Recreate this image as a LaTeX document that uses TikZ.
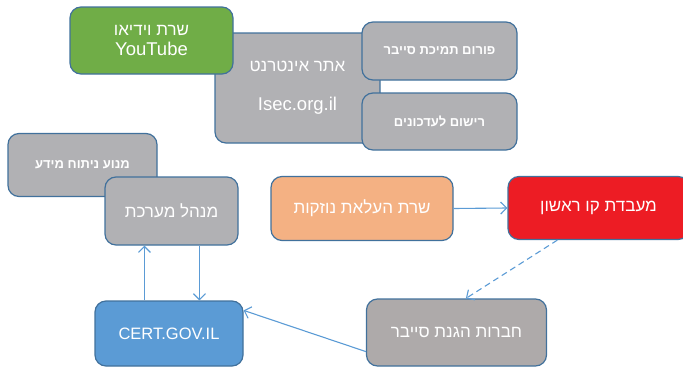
\documentclass[tikz,border=0pt]{standalone}
\usepackage{fontspec}
\setmainfont{Liberation Sans}
\newfontfamily\hebfont[Script=Hebrew]{Liberation Sans}
\TeXXeTstate=1
\usetikzlibrary{arrows.meta}

\definecolor{boxline}{HTML}{41719C}
\definecolor{linkblue}{HTML}{5B9BD5}
\definecolor{boxgray}{HTML}{B1B1B4}
\definecolor{warmgray}{HTML}{AEAAAA}
\definecolor{boxgreen}{HTML}{70AD47}
\definecolor{boxorange}{HTML}{F4B183}
\definecolor{boxred}{HTML}{ED1C24}
\definecolor{boxblue}{HTML}{5B9BD5}

\begin{document}
\begin{tikzpicture}[x=1pt,y=-1pt,
	box/.style={draw=boxline, line width=1.2pt, rounded corners=11pt, text=white,
		font=\fontsize{17}{20}\selectfont, align=center, inner sep=0pt},
	smallbox/.style={box, fill=boxgray, font=\fontsize{13}{15}\selectfont\bfseries},
	latin/.style={font=\fontsize{18.5}{21}\selectfont},
	link/.style={linkblue, line width=1.1pt, -{Straight Barb[length=6pt,width=12pt]}}]
				\clip (0,0) rectangle (683,367);
				
				% top group
				\node[box, fill=boxgray, minimum width=165, minimum height=110] (site) at (297.5,88)
					{\hebfont\beginR אתר אינטרנט\endR\\[19pt]{\fontsize{18.5}{21}\selectfont Isec.org.il}};
				\node[box, fill=boxgreen, minimum width=163, minimum height=67] (video) at (151.5,40.5)
					{\hebfont\beginR שרת וידיאו\endR\\{\fontsize{18.5}{21}\selectfont YouTube}};
				\node[smallbox, minimum width=155, minimum height=58] (forum) at (439.5,51)
					{\hebfont\beginR פורום תמיכת סייבר\endR};
				\node[smallbox, minimum width=155, minimum height=57] (updates) at (439.5,121.5)
					{\hebfont\beginR רישום לעדכונים\endR};
				
				% left group
				\node[smallbox, minimum width=149, minimum height=63] (engine) at (82.5,165)
					{\hebfont\beginR מנוע ניתוח מידע\endR};
				\node[box, fill=boxgray, minimum width=133, minimum height=68] (manager) at (171.5,211)
					{\hebfont\beginR מנהל מערכת\endR};
				\node[box, fill=boxblue, minimum width=148, minimum height=65,
					font=\fontsize{16.5}{19}\selectfont] (cert) at (169,333.5) {CERT.GOV.IL};
				
				% right group
				\node[box, fill=boxorange, minimum width=182, minimum height=64] (alert) at (362,208.5)
					{\hebfont\beginR שרת העלאת נוזקות\endR};
				\node[box, fill=boxred, minimum width=181, minimum height=63] (lab) at (598.5,208)
					{\hebfont\beginR מעבדת קו ראשון\endR};
				\node[box, fill=warmgray, minimum width=180, minimum height=67] (cyber) at (456.5,332.5)
					{\hebfont\beginR חברות הגנת סייבר\endR};
				
				% connectors
				\draw[link] (alert.east) -- (lab.west);
				\draw[link, dash pattern=on 6pt off 4pt] ([xshift=50pt]lab.south west) -- ([xshift=100pt]cyber.north west);
				\draw[link] ([xshift=50pt]cert.north west) -- ([xshift=40pt]manager.south west);
				\draw[link] ([xshift=95pt]manager.south west) -- ([xshift=105pt]cert.north west);
				\draw[link] ([yshift=15pt]cyber.south west) -- ([yshift=-10pt]cert.north east);
			\end{tikzpicture}
\end{document}
